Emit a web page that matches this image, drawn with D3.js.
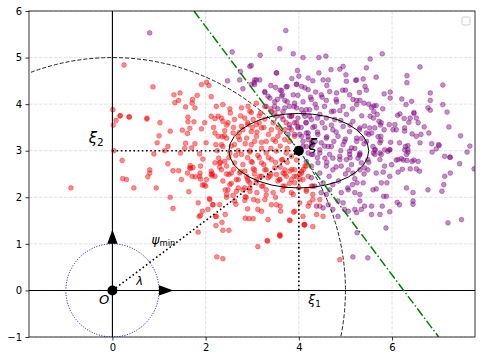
<!DOCTYPE html>
<html>
<head>
<meta charset="utf-8">
<script src="https://cdn.jsdelivr.net/npm/d3@7"></script>
<style>
  body { margin: 0; background: #fff; }
  text { font-family: "DejaVu Sans", sans-serif; }
</style>
</head>
<body>
<div id="chart"></div>
<script>
// tick values
var xTicks = [0, 2, 4, 6];
var yTicks = [-1, 0, 1, 2, 3, 4, 5, 6];

// the point xi and the shapes around it
var xi = [4, 3];
var bigRadius = 5;
var unitRadius = 1;
var ellipseRadii = [1.5, 0.8];
var greenLine = [[1.75, 6], [7, -1]];

// class 1 (red) points
var redPoints = [
  [0.87,4.37],[1.91,4.42],[2.02,4.47],[2.07,4.40],[1.32,4.20],[1.45,4.24],[1.34,4.03],[1.42,4.08],
  [1.82,4.19],[2.12,4.16],[1.72,4.10],[1.71,4.02],[1.57,3.94],[1.77,3.92],[2.23,3.95],[0.17,3.75],
  [0.08,3.65],[0.36,3.72],[0.74,3.68],[1.02,3.60],[1.62,3.72],[1.62,3.62],[1.75,3.62],[1.98,3.60],
  [2.12,3.74],[2.20,3.69],[2.27,3.74],[2.37,3.63],[1.66,3.48],[1.91,3.47],[1.24,3.42],[1.50,3.44],
  [2.17,3.50],[2.20,3.38],[2.27,3.31],[2.40,3.32],[1.00,3.32],[1.61,3.37],[0.96,3.17],[1.19,3.09],
  [1.57,3.16],[1.77,3.15],[2.01,3.17],[2.22,3.13],[2.37,3.09],[1.12,3.00],[1.46,2.95],[1.55,3.05],
  [1.70,3.06],[0.89,2.93],[1.87,2.93],[1.94,2.82],[2.28,2.84],[2.32,2.75],[0.21,2.79],[2.20,2.74],
  [1.19,2.72],[1.30,2.57],[1.42,2.57],[1.61,2.52],[1.68,2.62],[1.73,2.64],[1.89,2.67],[0.80,2.59],
  [0.80,2.52],[0.76,2.44],[1.71,2.45],[1.78,2.44],[1.89,2.39],[1.48,2.38],[2.14,2.51],[2.14,2.46],
  [0.30,2.38],[1.93,2.26],[2.00,2.24],[0.46,2.20],[0.94,2.20],[1.64,2.12],[1.24,2.00],[2.08,1.97],
  [2.15,1.84],[1.84,1.88],[1.30,1.76],[1.93,1.70],[1.89,1.61],[2.21,1.59],[2.22,1.39],[1.84,1.25],
  [2.24,0.72],[2.37,0.68],[-0.89,2.20],[0.25,4.84],[0.01,3.88],[0.16,3.75],[0.36,3.73],[0.74,3.70],
  [0.02,3.55],[0.03,3.00],[0.22,2.40],[1.86,1.59],[3.12,0.94],[3.32,1.07],[3.60,1.17],[3.81,1.50],
  [3.89,1.68],[4.12,1.41],[4.09,1.59],[3.52,1.84],[3.61,1.70],[3.34,1.52],[3.12,1.74],[3.02,1.54],
  [2.93,1.54],[2.85,1.55],[2.37,1.29],[2.50,1.29],[2.35,1.46],[2.23,1.59],[2.42,1.63],[2.16,1.84],
  [2.30,1.84],[2.42,2.16],[2.62,1.92],[2.84,1.93],[3.03,1.95],[2.59,2.04],[2.85,2.01],[3.12,1.92],
  [3.27,1.95],[3.41,1.84],[3.60,1.81],[3.30,2.16],[3.45,2.10],[3.66,2.24],[3.84,2.10],[3.91,2.31],
  [2.09,1.95],[2.05,1.74],[1.87,2.45],[1.88,2.52],[1.97,2.27],[2.02,2.38],[2.12,2.56],[2.12,2.49],
  [1.66,2.63],[1.67,2.68],[2.30,2.74],[2.45,2.67],[2.50,2.49],[2.52,2.27],[2.66,2.38],[2.73,2.52],
  [2.88,2.45],[2.95,2.31],[2.87,2.00],[3.09,2.31],[3.16,2.45],[3.23,2.24],[2.66,2.13],[2.45,2.06],
  [2.80,2.16],[2.95,2.13],[3.02,2.61],[3.30,2.59],[3.38,2.45],[3.52,2.49],[3.59,2.38],[3.66,2.52],
  [3.81,2.56],[3.95,2.45],[4.06,2.56],[4.16,2.67],[2.37,3.99],[2.52,3.90],[2.53,3.81],[2.77,3.92],
  [2.98,3.82],[3.18,3.81],[3.27,3.68],[2.34,3.70],[2.48,3.60],[2.62,3.67],[2.84,3.70],[3.02,3.67],
  [3.09,3.56],[2.91,3.56],[2.77,3.52],[2.41,3.43],[2.59,3.38],[2.72,3.39],[2.98,3.41],[3.20,3.49],
  [3.41,3.45],[3.45,3.24],[3.55,3.31],[3.70,3.24],[2.45,3.27],[2.73,3.24],[2.88,3.27],[3.09,3.31],
  [3.20,3.18],[2.98,3.13],[2.62,3.13],[2.34,3.13],[2.52,2.95],[2.77,2.92],[2.95,2.97],[3.12,2.90],
  [3.30,2.95],[3.52,2.99],[3.73,2.95],[3.84,2.88],[3.63,2.80],[3.41,2.81],[3.20,2.74],[2.98,2.77],
  [2.80,2.70],[2.62,2.74],[2.41,2.77],[2.34,2.59],[2.55,2.52],[2.84,2.56],[3.05,2.59],[3.27,2.59],
  [3.48,2.63],[3.70,2.59],[3.91,2.59],[4.06,2.52],[4.20,2.45],[4.13,2.67],[4.09,2.38],[3.84,2.38],
  [3.59,2.38],[3.34,2.42],[3.09,2.38],[2.91,2.35],[2.70,2.38],[2.37,2.35],[2.48,2.16],[2.84,2.20],
  [3.20,2.24],[4.27,2.24],[4.16,2.13],[4.30,1.95],[4.20,1.81],[4.11,1.41],[3.91,1.70],[3.59,1.20],
  [3.33,1.06],[3.48,3.81],[3.63,3.74],[3.73,3.60],[3.84,3.45],[3.91,3.31],[3.27,3.95],[3.09,4.02],
  [2.91,3.95],[3.65,2.81],[3.73,2.45],[4.02,2.38],[4.16,2.16],[4.30,2.06],[4.45,1.95],[4.38,1.63],
  [4.52,1.59],[4.13,1.41],[4.30,1.37],[3.80,1.51],[4.88,0.66],[3.59,1.17],[4.02,1.88],[4.23,1.88],
  [4.45,1.81],[3.88,2.06],[3.70,2.24],[4.30,2.24],[4.02,2.49],
  [2.6,3.5],[2.7,3.3],[2.8,3.45],[2.9,3.6],[3.0,3.5],[3.1,3.4],[3.15,3.6],[3.25,3.5],[3.35,3.35],
  [3.45,3.6],[3.55,3.5],[3.6,3.4],[3.7,3.45],[3.8,3.2],[3.75,3.05],[3.6,3.1],[3.5,3.2],[3.4,3.05],
  [3.3,3.2],[3.2,3.05],[3.05,3.2],[2.95,3.0],[2.85,3.15],[2.7,3.0],[2.55,3.1],[2.5,2.85],[2.65,2.9],
  [2.9,2.85],[3.0,2.75],[3.15,2.85],[3.25,2.7],[3.35,2.85],[3.5,2.75],[3.6,2.65],[3.75,2.75],
  [3.85,2.6],[3.95,2.8],[3.7,2.5],[3.55,2.35],[3.4,2.5],[3.2,2.45],[3.05,2.5],[2.9,2.4],[2.75,2.55],
  [2.6,2.6],[2.45,2.5],[2.55,2.3],[2.7,2.2],[2.95,2.2],[3.1,2.1],[3.3,2.05],[3.5,2.0],[3.65,2.15],
  [3.8,2.3],[3.9,2.45],[4.0,2.2],[4.1,2.6],[3.95,3.6],[3.85,3.75],[3.4,3.9],[3.15,3.75],[2.95,3.85],
  [2.75,3.75],[2.45,3.55],[2.35,3.3],[2.25,3.0],[2.3,2.65],[2.2,2.45],[2.45,2.0],[2.65,1.85],
  [2.9,1.75],[3.2,1.7]
];

// class 2 (purple) points
var purplePoints = [
  [0.80,5.53],[2.57,5.12],[2.47,4.50],[2.80,4.33],[2.95,4.81],[3.72,5.58],[3.59,5.19],[3.88,5.08],
  [3.17,5.05],[4.09,5.00],[4.43,5.00],[4.58,5.03],[2.98,4.83],[3.97,4.72],[3.52,4.67],[4.69,4.74],
  [4.88,4.75],[4.95,4.81],[4.43,4.67],[5.01,4.63],[4.20,4.56],[4.52,4.52],[4.63,4.52],[5.02,4.49],
  [5.22,4.51],[3.05,4.52],[3.16,4.52],[3.05,4.42],[2.75,4.70],[2.73,4.52],[3.50,4.36],[3.75,4.38],
  [3.95,4.43],[4.06,4.38],[3.27,4.27],[3.63,4.29],[3.65,4.20],[3.88,4.20],[3.98,4.19],[4.20,4.31],
  [4.36,4.26],[4.48,4.20],[4.66,4.27],[4.81,4.24],[4.94,4.30],[5.09,4.20],[3.38,4.13],[3.48,4.05],
  [3.70,4.08],[3.80,3.95],[4.09,4.05],[4.27,4.10],[4.59,4.08],[4.81,4.05],[5.16,4.10],[5.24,3.99],
  [3.30,3.95],[3.41,3.84],[3.55,3.90],[3.95,3.92],[4.16,3.88],[4.38,3.92],[4.70,3.84],[4.88,3.86],
  [5.02,3.78],[3.52,3.74],[3.66,3.67],[3.80,3.74],[3.98,3.70],[4.23,3.74],[4.45,3.78],[4.59,3.70],
  [4.77,3.67],[5.16,3.63],[3.80,3.56],[3.98,3.52],[4.16,3.60],[4.34,3.52],[4.56,3.49],[4.73,3.45],
  [4.95,3.52],[5.09,3.41],[3.77,3.35],[4.02,3.35],[4.20,3.38],[4.41,3.35],[4.59,3.27],[4.84,3.31],
  [5.24,3.27],[4.09,3.20],[4.27,3.17],[4.48,3.17],[4.70,3.09],[4.95,3.13],[5.13,3.06],[4.27,2.92],
  [4.45,2.95],[4.66,2.92],[4.88,2.88],[5.09,2.92],[5.27,2.84],[4.16,2.77],
  [5.79,5.08],[5.53,4.97],[6.60,4.80],[5.45,4.78],[5.66,4.58],[6.32,4.61],[6.32,4.46],[5.38,4.54],
  [5.24,4.52],[7.09,4.41],[5.42,4.38],[5.45,4.30],[5.83,4.22],[5.96,4.26],[5.96,4.13],[6.82,4.24],
  [6.82,4.08],[6.21,4.11],[6.42,4.06],[5.24,4.08],[5.31,4.08],[5.40,4.02],[6.30,3.99],[7.09,3.99],
  [5.56,3.93],[5.61,3.96],[5.66,3.97],[6.77,3.92],[6.82,3.87],[5.61,3.84],[7.18,3.83],[5.68,3.78],
  [6.12,3.76],[6.17,3.79],[6.47,3.82],[6.47,3.80],[6.39,3.70],[6.26,3.69],[6.52,3.70],[5.53,3.74],
  [5.72,3.63],[5.77,3.60],[6.36,3.61],[6.56,3.60],[5.94,3.56],[6.06,3.56],[5.52,3.49],[5.63,3.49],
  [5.41,3.53],[5.31,3.49],[6.02,3.45],[6.09,3.45],[6.27,3.49],[6.27,3.42],[6.69,3.51],[7.22,3.51],
  [5.45,3.38],[5.56,3.38],[5.83,3.45],[6.43,3.36],[6.52,3.31],[6.62,3.35],[6.79,3.38],[7.47,3.32],
  [5.76,3.31],[5.76,3.22],[5.34,3.26],[5.97,3.18],[6.29,3.09],[6.34,3.11],[6.60,3.17],[6.85,3.15],
  [7.00,3.13],[7.67,3.10],[5.59,3.09],[5.64,3.02],[5.84,3.02],[5.91,2.99],[5.95,3.02],[6.27,3.02],
  [6.34,2.97],[6.95,3.04],[6.86,2.97],[7.61,2.97],[7.13,2.88],[7.24,2.86],[6.09,2.80],[6.20,2.83],
  [6.24,2.80],[6.43,2.77],[6.47,2.80],[5.77,2.92],[5.63,2.92],[5.31,2.92],
  [7.01,3.11],[7.25,2.86],[7.45,2.72],[7.76,2.61],[6.13,2.54],[6.22,2.60],[6.39,2.61],[6.52,2.61],
  [6.59,2.56],[6.13,2.81],[6.32,2.79],[6.56,2.77],[5.74,2.81],[5.84,2.67],[5.99,2.70],[5.81,2.54],
  [5.95,2.45],[5.66,2.52],[5.77,2.31],[5.89,2.31],[5.59,2.16],[5.66,2.18],[5.82,2.02],[5.88,2.02],
  [6.11,1.89],[6.16,1.84],[6.45,1.92],[6.45,1.85],[6.31,2.20],[6.45,2.10],[6.77,2.16],[7.07,2.13],
  [7.11,2.27],[7.13,2.45],[7.25,2.52],[7.20,1.45],[7.49,1.52],[5.41,1.81],[5.56,1.81],[5.79,1.81],
  [5.95,1.69],[5.34,1.74],[5.20,1.74],[4.98,1.74],[5.06,1.70],[5.31,1.92],[5.24,1.67],[5.56,1.63],
  [5.74,1.63],[4.84,1.59],[5.87,1.34],[5.25,1.24],[5.16,0.72],[5.48,0.70],[5.31,2.06],[5.20,2.10],
  [5.15,2.27],[5.25,2.31],[5.38,2.31],[5.48,2.59],[5.41,2.63],[5.31,2.59],[5.16,2.52],[5.06,2.59],
  [5.06,2.16],[4.91,2.10],[4.73,2.27],[4.66,2.16],[4.59,2.06],[4.84,1.92],[4.95,1.88],[4.63,1.84],
  [4.98,3.20],[5.24,3.20],[5.45,3.20],[5.63,3.02],[5.74,2.95],[5.95,3.02],[6.16,3.17],[6.34,3.02],
  [6.31,2.92],[5.74,3.17],[4.52,2.31],[4.45,2.52],[4.59,2.67],[4.73,2.59],[4.91,2.67],[4.41,2.74],
  [4.56,2.84],[4.73,2.84],[4.88,2.81],[5.02,2.81],[5.13,2.70],[5.34,2.74],[5.48,2.81],[5.31,2.95],
  [5.09,2.99],[4.30,2.92],[4.45,3.02],[4.63,3.09],[4.30,3.13],[4.16,3.09],[4.27,2.67],[4.27,2.42],
  [4.34,2.24],[4.48,2.10],[4.73,1.74],[4.52,1.77],[4.38,1.81],
  [3.04,4.46],[3.09,4.52],[2.98,4.42],[3.52,4.67],[3.27,4.25],[3.34,4.17],[3.54,4.10],[3.63,4.17],
  [3.48,3.95],[3.70,3.92],[3.91,4.02],[3.95,4.42],[4.13,4.35],[3.73,4.37],[3.66,3.84],[3.84,3.74],
  [3.91,3.60],[3.98,3.49],[3.80,3.49],[3.91,3.35],[4.06,3.31],[4.16,3.38],[4.20,3.24],[4.27,3.09],
  [4.09,3.09],[4.27,3.67],[4.13,3.74],[4.23,3.88],[4.06,3.88],
  [4.3,3.5],[4.5,3.6],[4.7,3.55],[4.9,3.65],[5.1,3.55],[5.3,3.45],[5.5,3.35],[5.4,3.15],[5.2,3.05],
  [5.0,3.25],[4.8,3.4],[4.6,3.3],[4.4,3.4],[4.2,3.3],[4.35,3.2],[4.55,3.1],[4.75,3.2],[4.9,3.0],
  [5.1,2.85],[5.3,2.9],[5.5,2.75],[5.6,2.95],[5.7,3.3],[5.75,3.55],[5.6,3.7],[5.35,3.75],[5.15,3.9],
  [4.95,3.95],[4.75,3.85],[4.55,3.95],[4.35,4.0],[4.15,3.6],[4.05,3.5],[4.25,4.15],[4.5,4.15],
  [4.8,4.1],[5.0,4.3],[5.3,4.25],[5.5,4.0],[5.8,3.9],[4.6,2.75],[4.8,2.65],[5.0,2.5],[5.2,2.4],
  [5.4,2.5],[4.4,2.85],[4.2,2.95],[4.65,2.45],[4.85,2.35],[5.05,2.2],[4.4,3.7],[4.1,3.8],[3.9,3.95],
  [3.75,4.05],[3.6,4.3],[3.4,4.4],[3.85,4.55],[4.0,4.6],[4.3,4.5],[4.6,4.4]
];

// dimensions of the graph
var margin = {top: 11, right: 7, bottom: 24, left: 29},
    width = 446,
    height = 326;

var svg = d3.select("#chart")
  .append("svg")
    .attr("width", 482)
    .attr("height", 361)
  .append("g")
    .attr("transform", "translate(" + margin.left + "," + margin.top + ")");

var x = d3.scaleLinear().domain([-1.79, 7.78]).range([0, width]);
var y = d3.scaleLinear().domain([-1, 6]).range([height, 0]);

svg.append("clipPath").attr("id", "clip")
  .append("rect").attr("width", width).attr("height", height);

// grid
var grid = svg.append("g").attr("stroke", "#d9d9d9").attr("stroke-width", 0.8)
  .attr("stroke-dasharray", "3.5,1.5");
grid.selectAll(".gx").data(xTicks).enter().append("line")
  .attr("x1", d => x(d)).attr("x2", d => x(d)).attr("y1", 0).attr("y2", height);
grid.selectAll(".gy").data(yTicks).enter().append("line")
  .attr("y1", d => y(d)).attr("y2", d => y(d)).attr("x1", 0).attr("x2", width);

// axes
var xAxis = svg.append("g")
  .attr("transform", "translate(0," + height + ")")
  .call(d3.axisBottom(x).tickValues(xTicks).tickSize(3.5).tickPadding(3.5).tickFormat(d3.format("d")));
var yAxis = svg.append("g")
  .call(d3.axisLeft(y).tickValues(yTicks).tickSize(3.5).tickPadding(3.5).tickFormat(d3.format("d")));
[xAxis, yAxis].forEach(function(a) {
  a.select(".domain").remove();
  a.selectAll("text").style("font-family", "DejaVu Sans").style("font-size", "10px").attr("fill", "#000");
  a.selectAll("line").attr("stroke", "#000").attr("stroke-width", 0.8);
});

var plot = svg.append("g").attr("clip-path", "url(#clip)");

// scatter
plot.append("g").selectAll("circle").data(redPoints).enter().append("circle")
  .attr("cx", d => x(d[0])).attr("cy", d => y(d[1])).attr("r", 2.4)
  .attr("fill", "red").attr("fill-opacity", 0.45)
  .attr("stroke", "red").attr("stroke-opacity", 0.45).attr("stroke-width", 0.8);
plot.append("g").selectAll("circle").data(purplePoints).enter().append("circle")
  .attr("cx", d => x(d[0])).attr("cy", d => y(d[1])).attr("r", 2.4)
  .attr("fill", "purple").attr("fill-opacity", 0.45)
  .attr("stroke", "purple").attr("stroke-opacity", 0.45).attr("stroke-width", 0.8);

// axis lines through origin
plot.append("line").attr("x1", 0).attr("x2", width).attr("y1", y(0)).attr("y2", y(0))
  .attr("stroke", "#000").attr("stroke-width", 1.1);
plot.append("line").attr("x1", x(0)).attr("x2", x(0)).attr("y1", 0).attr("y2", height)
  .attr("stroke", "#000").attr("stroke-width", 1.1);

// big dashed circle
plot.append("ellipse").attr("cx", x(0)).attr("cy", y(0))
  .attr("rx", x(bigRadius) - x(0)).attr("ry", y(0) - y(bigRadius))
  .attr("fill", "none").attr("stroke", "#222").attr("stroke-width", 1)
  .attr("stroke-dasharray", "4,2");

// unit circle
plot.append("ellipse").attr("cx", x(0)).attr("cy", y(0))
  .attr("rx", x(unitRadius) - x(0)).attr("ry", y(0) - y(unitRadius))
  .attr("fill", "none").attr("stroke", "blue").attr("stroke-width", 1)
  .attr("stroke-dasharray", "1,1.6");

// ellipse around xi
plot.append("ellipse").attr("cx", x(xi[0])).attr("cy", y(xi[1]))
  .attr("rx", x(ellipseRadii[0]) - x(0)).attr("ry", y(0) - y(ellipseRadii[1]))
  .attr("fill", "none").attr("stroke", "#000").attr("stroke-width", 1);

// green dash-dot line
plot.append("line")
  .attr("x1", x(greenLine[0][0])).attr("y1", y(greenLine[0][1]))
  .attr("x2", x(greenLine[1][0])).attr("y2", y(greenLine[1][1]))
  .attr("stroke", "green").attr("stroke-width", 1.5)
  .attr("stroke-dasharray", "9,2.5,1.5,2.5");

// dotted projections
var dotted = [[[0, 0], xi], [[0, xi[1]], xi], [[xi[0], 0], xi]];
plot.append("g").selectAll("line").data(dotted).enter().append("line")
  .attr("x1", d => x(d[0][0])).attr("y1", d => y(d[0][1]))
  .attr("x2", d => x(d[1][0])).attr("y2", d => y(d[1][1]))
  .attr("stroke", "#000").attr("stroke-width", 1.6).attr("stroke-dasharray", "1.6,2.6");

// arrow heads
var hw = 0.11, hl = 0.31;
plot.append("path")
  .attr("d", "M" + x(-hw) + "," + y(1) + "L" + x(hw) + "," + y(1) + "L" + x(0) + "," + y(1 + hl) + "Z")
  .attr("fill", "#000");
plot.append("path")
  .attr("d", "M" + x(1) + "," + y(-hw) + "L" + x(1) + "," + y(hw) + "L" + x(1 + hl) + "," + y(0) + "Z")
  .attr("fill", "#000");

// points O and xi
plot.append("circle").attr("cx", x(0)).attr("cy", y(0)).attr("r", 5).attr("fill", "#000");
plot.append("circle").attr("cx", x(xi[0])).attr("cy", y(xi[1])).attr("r", 5).attr("fill", "#000");

// labels
function label(px, py, main, sub, size) {
  var t = svg.append("text").attr("x", x(px)).attr("y", y(py))
    .style("font-size", size + "px").style("font-style", "italic").attr("fill", "#000");
  t.append("tspan").text(main);
  if (sub) {
    t.append("tspan").attr("dy", size * 0.2).style("font-style", "normal")
      .style("font-size", (size * 0.7) + "px").text(sub);
  }
}
label(-0.51, 3.16, "ξ", "2", 15);
label(4.2, 3.02, "ξ", null, 16);
label(4.2, -0.3, "ξ", "1", 12.5);
label(-0.29, -0.3, "O", null, 13);
label(0.51, 0.11, "λ", null, 11.5);
label(0.84, 1.0, "ψ", "min", 12);

// spines
svg.append("rect").attr("width", width).attr("height", height)
  .attr("fill", "none").attr("stroke", "#000").attr("stroke-width", 0.8);

// empty legend box
svg.append("rect").attr("x", width - 13).attr("y", 6).attr("width", 8).attr("height", 8)
  .attr("rx", 1.5).attr("fill", "#fff").attr("stroke", "#ccc").attr("stroke-width", 1);
</script>
</body>
</html>
